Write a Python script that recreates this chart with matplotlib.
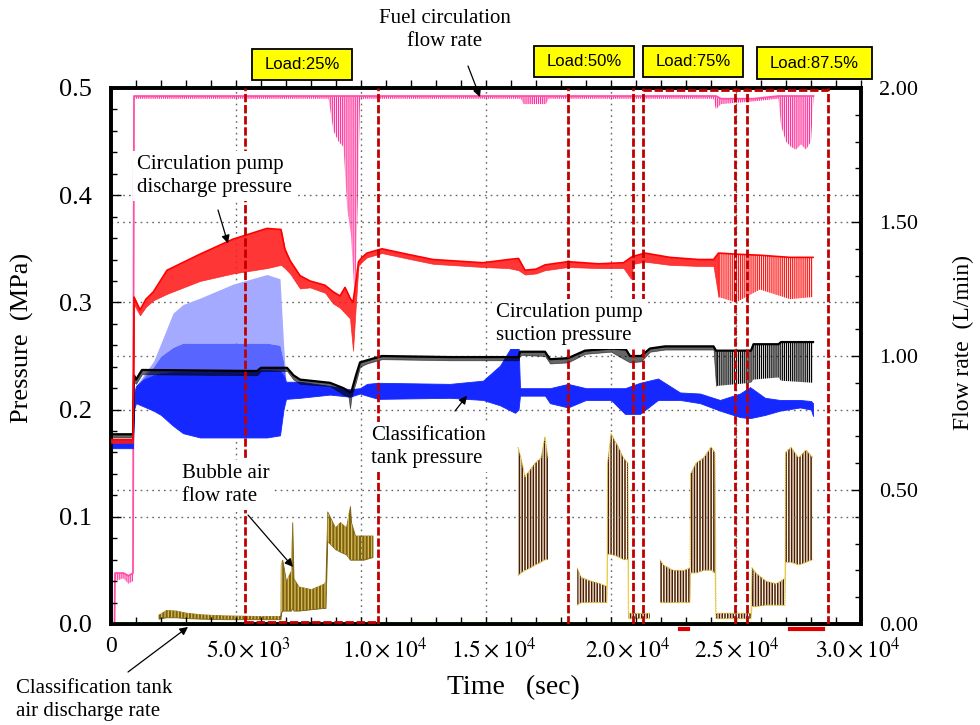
import numpy as np
import matplotlib
matplotlib.use("Agg")
import matplotlib.pyplot as plt
from matplotlib.patches import Rectangle

plt.rcParams['font.family'] = ['Liberation Serif', 'DejaVu Serif']
plt.rcParams['mathtext.fontset'] = 'stix'
plt.rcParams['hatch.linewidth'] = 0.9

# ------------------------------------------------------------------ data
# Fuel circulation flow rate (L/min) : envelope (upper / lower)
fuel_t = [0, 140, 160, 500, 700, 880, 920, 8700, 8900, 9100, 9300, 9450, 9600, 9760, 9880, 9960,
          16400, 16500, 17400, 17500, 24100, 24200, 24400, 25700, 26700, 26800, 27000, 27200,
          27400, 27600, 27800, 28000, 28100]
fuel_hi = [0, 0, 0.19, 0.19, 0.18, 0.19, 1.97, 1.97, 1.97, 1.97, 1.97, 1.97, 1.97, 1.97, 1.97, 1.97,
           1.97, 1.97, 1.97, 1.97, 1.97, 1.97, 1.96, 1.96, 1.97, 1.97, 1.97, 1.97,
           1.97, 1.97, 1.97, 1.97, 1.97]
fuel_lo = [0, 0, 0.16, 0.17, 0.15, 0.16, 1.96, 1.96, 1.84, 1.80, 1.78, 1.55, 1.45, 1.20, 1.60, 1.96,
           1.96, 1.94, 1.94, 1.96, 1.96, 1.92, 1.94, 1.95, 1.96, 1.86, 1.80, 1.78,
           1.77, 1.79, 1.77, 1.80, 1.96]

# Circulation pump discharge pressure (MPa)
dis_t = [0, 880, 920, 1160, 1400, 1700, 2240, 3560, 4880, 6240,
         6800, 6950, 7160, 7560, 7960, 8560, 8880, 9160, 9360, 9560,
         9680, 9800, 9900, 10040, 10240, 10840, 11840, 12880, 14880, 15900,
         16300, 16560, 17000, 17360, 18280, 19500, 20500, 20800, 20900, 21360,
         22360, 23500, 24100, 24300, 25000, 25960, 27160, 28080]
dis_hi = [0.172, 0.172, 0.305, 0.293, 0.303, 0.310, 0.330, 0.345, 0.359, 0.369,
          0.368, 0.350, 0.339, 0.325, 0.320, 0.316, 0.310, 0.306, 0.314, 0.304,
          0.300, 0.320, 0.338, 0.342, 0.346, 0.350, 0.345, 0.340, 0.337, 0.340,
          0.341, 0.330, 0.331, 0.335, 0.338, 0.336, 0.337, 0.342, 0.343, 0.346,
          0.342, 0.340, 0.340, 0.346, 0.345, 0.344, 0.342, 0.342]
dis_lo = [0.169, 0.169, 0.298, 0.288, 0.296, 0.302, 0.308, 0.320, 0.327, 0.332,
          0.335, 0.332, 0.327, 0.313, 0.314, 0.309, 0.299, 0.295, 0.290, 0.285,
          0.255, 0.300, 0.334, 0.338, 0.342, 0.346, 0.341, 0.336, 0.333, 0.332,
          0.330, 0.326, 0.327, 0.330, 0.333, 0.332, 0.332, 0.322, 0.336, 0.338,
          0.335, 0.334, 0.334, 0.305, 0.300, 0.312, 0.303, 0.305]

# Circulation pump suction pressure (MPa)
suc_t = [0, 880, 920, 1000, 1240, 5840, 6000, 7040, 7300, 7560,
         8760, 9300, 9500, 9560, 9620, 9800, 9960, 10240, 10840, 13560,
         16300, 16360, 17360, 17560, 18280, 18960, 20000, 20600, 20760, 21200,
         21560, 22160, 24100, 24200, 25600, 25700, 26700, 26800, 28080]
suc_hi = [0.177, 0.177, 0.232, 0.228, 0.237, 0.236, 0.239, 0.239, 0.232, 0.228,
          0.225, 0.220, 0.217, 0.216, 0.217, 0.232, 0.244, 0.246, 0.250, 0.249,
          0.249, 0.254, 0.254, 0.247, 0.248, 0.255, 0.257, 0.256, 0.250, 0.250,
          0.257, 0.259, 0.259, 0.255, 0.255, 0.261, 0.261, 0.263, 0.263]
suc_lo = [0.174, 0.174, 0.226, 0.224, 0.233, 0.232, 0.236, 0.236, 0.228, 0.224,
          0.222, 0.214, 0.212, 0.201, 0.212, 0.226, 0.240, 0.243, 0.247, 0.246,
          0.246, 0.251, 0.250, 0.243, 0.244, 0.252, 0.254, 0.246, 0.244, 0.245,
          0.254, 0.256, 0.256, 0.222, 0.225, 0.228, 0.230, 0.227, 0.225]

# Classification tank pressure (MPa) : dense band
cls_t = [0, 880, 920, 1000, 1300, 1700, 2000, 2480, 2880, 3560,
         4880, 6240, 6760, 6900, 7000, 7560, 8760, 9560, 9960, 10240,
         10680, 13560, 14880, 15560, 16160, 16300, 16360, 17360, 17560, 18280,
         19000, 20000, 20560, 21160, 21880, 22760, 23560, 24360, 25160, 25560,
         26160, 26760, 27560, 28000, 28080]
cls_hi = [0.172, 0.172, 0.215, 0.222, 0.228, 0.232, 0.234, 0.235, 0.235, 0.235,
          0.236, 0.237, 0.236, 0.232, 0.226, 0.226, 0.222, 0.219, 0.220, 0.224,
          0.225, 0.224, 0.227, 0.241, 0.264, 0.262, 0.220, 0.220, 0.220, 0.224,
          0.220, 0.220, 0.220, 0.225, 0.229, 0.216, 0.215, 0.209, 0.215, 0.221,
          0.211, 0.209, 0.209, 0.208, 0.206]
cls_lo = [0.164, 0.164, 0.200, 0.206, 0.203, 0.199, 0.195, 0.185, 0.178, 0.174,
          0.174, 0.174, 0.176, 0.200, 0.210, 0.211, 0.214, 0.212, 0.215, 0.213,
          0.210, 0.211, 0.209, 0.204, 0.197, 0.200, 0.213, 0.213, 0.206, 0.202,
          0.209, 0.209, 0.196, 0.196, 0.209, 0.209, 0.206, 0.199, 0.193, 0.192,
          0.195, 0.199, 0.202, 0.200, 0.194]
# Classification tank pressure : scattered upper part during 25 % load step
spr_t = [1000, 1300, 1700, 2000, 2480, 2880, 3560, 4880, 6240, 6760, 6900, 7000]
spr_hi = [0.222, 0.232, 0.245, 0.262, 0.290, 0.298, 0.304, 0.317, 0.326, 0.322, 0.262, 0.226]
spr_mid = [0.222, 0.230, 0.240, 0.250, 0.258, 0.262, 0.262, 0.262, 0.262, 0.260, 0.245, 0.226]
spr_base = [0.222, 0.228, 0.232, 0.234, 0.235, 0.235, 0.235, 0.236, 0.237, 0.236, 0.232, 0.226]

# Bubble air flow rate (L/min), bursts separated by NaN
nan = np.nan
bub_t = [1900, 2200, 2600, 3000, 3600, 4500, 5800, 6780,
         6790, 6850, 7000, 7200, 7250, 7300, 7500, 8000, 8500, 8580, 8650, 8960, 9160, 9400,
         9560, 9600, 9760, 10100, 10460, nan,
         16280, 16400, 16560, 16800, 16960, 17200, 17360, 17480, nan,
         18650, 18800, 19200, 19600, 19840,
         19860, 20000, 20300, 20500, 20680,
         20700, 21560, nan,
         21960, 22100, 22500, 22900, 23160,
         23180, 23400, 23700, 24000, 24160,
         24200, 25600,
         25640, 25800, 26200, 26600, 26960,
         26980, 27200, 27500, 27800, 28080]
bub_hi = [0.035, 0.052, 0.050, 0.042, 0.036, 0.032, 0.030, 0.030,
          0.22, 0.24, 0.16, 0.20, 0.38, 0.17, 0.14, 0.13, 0.15, 0.16, 0.42, 0.36, 0.38, 0.36,
          0.44, 0.38, 0.33, 0.33, 0.33, nan,
          0.66, 0.62, 0.55, 0.58, 0.60, 0.62, 0.70, 0.62, nan,
          0.21, 0.175, 0.16, 0.15, 0.14,
          0.60, 0.71, 0.66, 0.62, 0.60,
          0.04, 0.04, nan,
          0.24, 0.22, 0.20, 0.20, 0.21,
          0.56, 0.60, 0.62, 0.66, 0.64,
          0.04, 0.04,
          0.21, 0.19, 0.16, 0.15, 0.17,
          0.64, 0.66, 0.62, 0.65, 0.62]
bub_lo = [0.020, 0.025, 0.025, 0.022, 0.020, 0.018, 0.018, 0.018,
          0.04, 0.05, 0.05, 0.05, 0.06, 0.05, 0.05, 0.055, 0.06, 0.06, 0.31, 0.28, 0.27, 0.26,
          0.24, 0.24, 0.24, 0.24, 0.25, nan,
          0.18, 0.19, 0.20, 0.21, 0.22, 0.23, 0.24, 0.24, nan,
          0.07, 0.08, 0.08, 0.08, 0.08,
          0.26, 0.26, 0.25, 0.24, 0.24,
          0.02, 0.02, nan,
          0.08, 0.08, 0.08, 0.08, 0.08,
          0.19, 0.19, 0.20, 0.20, 0.19,
          0.02, 0.02,
          0.065, 0.065, 0.07, 0.07, 0.07,
          0.23, 0.23, 0.22, 0.23, 0.24]

# Classification tank air discharge rate (L/min)
air_t = [0, 28100]
air_v = [0.004, 0.004]

# Load-change markers (sec)
load_lines = [5360, 10680, 18280, 20880, 21280, 24960, 25440, 28680]
top_span = [21280, 28680]
bot_span = [5360, 10680]
offscale_spans = [[22760, 23080], [27160, 28480]]
load_labels = ['Load:25%', 'Load:50%', 'Load:75%', 'Load:87.5%']
noisy_from = 24150   # start of the scattered (striped) part of the pump pressures

# axes ticks
x_minor = np.arange(0, 30001, 1000)
x_grid = [5000, 10000, 15000, 20000, 25000]
x_label_pos = [0, 5480, 10960, 15320, 20680, 25040, 29880]
x_labels = ['0', r'$5.0\times10^{3}$', r'$1.0\times10^{4}$', r'$1.5\times10^{4}$',
            r'$2.0\times10^{4}$', r'$2.5\times10^{4}$', r'$3.0\times10^{4}$']
p_ticks = [0.0, 0.1, 0.2, 0.3, 0.4, 0.5]
p_labels = ['0.0', '0.1', '0.2', '0.3', '0.4', '0.5']
f_ticks = [0.0, 0.5, 1.0, 1.5, 2.0]
f_labels = ['0.00', '0.50', '1.00', '1.50', '2.00']

# ------------------------------------------------------------------ figure
W, H = 980, 725
fig = plt.figure(figsize=(W / 100, H / 100), dpi=100)
fig.patch.set_facecolor('white')


def fx(px):
    return px / W


def fy(py):
    return 1 - py / H


ax = fig.add_axes([fx(111), fy(624), 750 / W, 536 / H])
ax2 = ax.twinx()
ax.set_zorder(2)
ax.patch.set_visible(False)
ax2.set_zorder(1)

ax.set_xlim(0, 30000)
ax.set_ylim(0, 0.5)
ax2.set_ylim(0, 2.0)

grid_kw = dict(color='#666666', lw=1.0, ls=(0, (1.2, 3)), zorder=0)
for g in p_ticks[1:-1]:
    ax.axhline(g, **grid_kw)
for g in f_ticks[1:-1]:
    ax2.axhline(g, **grid_kw)
for g in x_grid:
    ax.axvline(g, **grid_kw)

HATCH = '||||||||'

# --- flow-rate series (right axis)
ax2.fill_between(fuel_t, fuel_lo, fuel_hi, facecolor='none', edgecolor='#ff3399',
                 hatch=HATCH, lw=0, zorder=2)
ax2.plot(fuel_t, fuel_hi, color='#ff4fa8', lw=1.3, zorder=3)

bt = np.array(bub_t, dtype=float)
bh = np.array(bub_hi, dtype=float)
bl = np.array(bub_lo, dtype=float)
early = bt < 12000
ax2.fill_between(bt[early], bl[early], bh[early], facecolor='#7d6212', edgecolor='#7d6212',
                 lw=0.6, zorder=2)
ax2.fill_between(bt[early], bl[early], bh[early], facecolor='none', edgecolor='#d9bd55',
                 hatch='|||||', lw=0, zorder=2)
late = ~early | np.isnan(bt)
ax2.fill_between(bt[late], bl[late], bh[late], facecolor='#4a1c0a', edgecolor='#fff7dc',
                 hatch='||||||', lw=0, zorder=2)
ax2.plot(bt[late], bh[late], color='#f0d030', lw=0.9, ls=(0, (1, 1)), zorder=3)
ax2.plot(bt[late], bl[late], color='#f0d030', lw=0.9, ls=(0, (1, 1)), zorder=3)
ax2.plot(air_t, air_v, color='#22aa22', lw=1.2, zorder=3)

# --- pressure series (left axis)
ax.fill_between(spr_t, spr_mid, spr_hi, color='#a3aaff', lw=0, zorder=2)
ax.fill_between(spr_t, spr_base, spr_mid, color='#5866ff', lw=0, zorder=2)
ax.fill_between(cls_t, cls_lo, cls_hi, color='#1428ff', edgecolor='#1428ff', lw=0.6, zorder=2)

st = np.array(suc_t)
ax.fill_between(suc_t, suc_lo, suc_hi, where=st <= noisy_from + 100, color='black', alpha=0.6,
                lw=0.5, zorder=3)
ax.fill_between(suc_t, suc_lo, suc_hi, where=st >= noisy_from, facecolor='none', edgecolor='black',
                hatch=HATCH, lw=0, zorder=3)
ax.plot(suc_t, suc_hi, color='black', lw=1.6, zorder=3)

dt = np.array(dis_t)
ax.fill_between(dis_t, dis_lo, dis_hi, where=dt <= noisy_from + 200, color='#ff1a1a', alpha=0.88,
                lw=0.5, zorder=3)
ax.fill_between(dis_t, dis_lo, dis_hi, where=dt >= noisy_from, facecolor='none', edgecolor='#ff1a1a',
                hatch=HATCH, lw=0, zorder=3)
ax.plot(dis_t, dis_hi, color='#ff0000', lw=1.2, zorder=3)

# --- load change markers
dash_kw = dict(color='#c00000', lw=2.0, ls=(0, (3, 1)), zorder=5)
for t in load_lines:
    ax.axvline(t, **dash_kw)
ax.hlines(0.498, top_span[0], top_span[1], **dash_kw)
ax.hlines(0.002, bot_span[0], bot_span[1], **dash_kw)
for s in offscale_spans:
    ax.plot(s, [-0.005, -0.005], color='#e00000', lw=3, clip_on=False, zorder=5)

# --- ticks
ax.set_xticks(x_label_pos, x_labels)
ax.set_xticks(x_minor, minor=True)
ax.tick_params(axis='x', which='major', length=0, labelsize=17, pad=9)
ax.tick_params(axis='x', which='minor', direction='in', length=5, width=1, bottom=True, top=False)
ax2.xaxis.set_visible(True)
ax2.tick_params(axis='x', which='major', length=0, bottom=False, top=False,
                labelbottom=False, labeltop=False)
ax2.tick_params(axis='x', which='minor', direction='out', length=6, width=1,
                top=True, bottom=False)

ax.set_yticks(p_ticks, p_labels)
ax.set_yticks(np.arange(0, 0.5001, 0.02), minor=True)
ax.tick_params(axis='y', which='major', direction='in', length=7, width=1, labelsize=19, pad=14,
               left=True, right=False)
ax.tick_params(axis='y', which='minor', direction='in', length=4, width=1, left=True, right=False)
ax2.set_yticks(f_ticks, f_labels)
ax2.set_yticks(np.arange(0, 2.0001, 0.1), minor=True)
ax2.tick_params(axis='y', which='major', direction='in', length=7, width=1, labelsize=16, pad=13)
ax2.tick_params(axis='y', which='minor', direction='in', length=4, width=1)

for a in (ax, ax2):
    for sp in a.spines.values():
        sp.set_linewidth(2.6)
        sp.set_color('black')

# --- axis titles
fig.text(fx(22), fy(338), 'Pressure  (MPa)', rotation=90, ha='center', va='center', fontsize=19)
fig.text(fx(963), fy(343), 'Flow rate  (L/min)', rotation=90, ha='center', va='center', fontsize=17)
fig.text(fx(513), fy(688), 'Time   (sec)', ha='center', va='center', fontsize=20)

# --- load boxes
boxes = [(252, 49, 100, 31), (534, 46, 100, 31), (643, 46, 100, 31), (757, 47, 115, 32)]
for (bx, by, bw, bh_), lab in zip(boxes, load_labels):
    fig.patches.append(Rectangle((fx(bx), fy(by + bh_)), bw / W, bh_ / H, transform=fig.transFigure,
                                 facecolor='#ffff00', edgecolor='black', lw=1.3, zorder=5))
    fig.text(fx(bx + bw / 2), fy(by + bh_ / 2), lab, ha='center', va='center', fontsize=12,
             family=['Liberation Sans', 'DejaVu Sans'], zorder=6)

# --- annotations
tb = dict(facecolor='white', edgecolor='none', pad=3)
fig.text(fx(445), fy(30), 'Fuel circulation\nflow rate', ha='center', va='center', fontsize=15,
         linespacing=1.3)
fig.text(fx(137), fy(176), 'Circulation pump\ndischarge pressure', ha='left', va='center',
         fontsize=15, linespacing=1.3, bbox=tb, zorder=4)
fig.text(fx(496), fy(324), 'Circulation pump\nsuction pressure', ha='left', va='center',
         fontsize=15, linespacing=1.3, bbox=tb, zorder=4)
fig.text(fx(371), fy(447), 'Classification\ntank pressure', ha='left', va='center',
         fontsize=15, linespacing=1.3, bbox=tb, zorder=4)
fig.text(fx(182), fy(485), 'Bubble air\nflow rate', ha='left', va='center',
         fontsize=15, linespacing=1.3, bbox=tb, zorder=4)
fig.text(fx(16), fy(700), 'Classification tank\nair discharge rate', ha='left', va='center',
         fontsize=15, linespacing=1.3)

arw = dict(arrowstyle='-|>', color='black', lw=0.9, shrinkA=0, shrinkB=0, mutation_scale=12)
ax2.annotate('', xy=(14760, 1.966), xytext=(fx(468), fy(66)), textcoords='figure fraction',
             arrowprops=arw, annotation_clip=False)
ax.annotate('', xy=(4680, 0.355), xytext=(fx(218), fy(210)), textcoords='figure fraction',
            arrowprops=arw, annotation_clip=False)
ax.annotate('', xy=(19440, 0.256), xytext=(fx(585), fy(337)), textcoords='figure fraction',
            arrowprops=arw, annotation_clip=False)
ax.annotate('', xy=(14240, 0.213), xytext=(fx(455), fy(411)), textcoords='figure fraction',
            arrowprops=arw, annotation_clip=False)
ax2.annotate('', xy=(7280, 0.213), xytext=(fx(248), fy(515)), textcoords='figure fraction',
             arrowprops=arw, annotation_clip=False)
ax2.annotate('', xy=(3080, -0.011), xytext=(fx(128), fy(672)), textcoords='figure fraction',
             arrowprops=arw, annotation_clip=False)

fig.savefig('out.png', dpi=100, facecolor='white')
